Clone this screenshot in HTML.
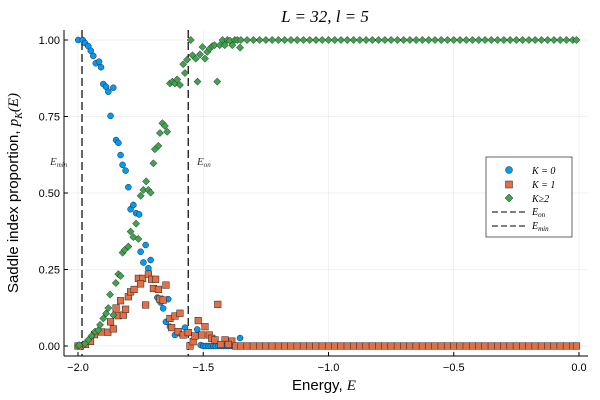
<!DOCTYPE html>
<html><head><meta charset="utf-8"><style>
body{margin:0;background:#fff;}
svg{display:block;font-family:"Liberation Sans",sans-serif;}
</style></head><body>
<svg id="c" width="600" height="400"></svg>
<script>
const xTicks=[-2.0,-1.5,-1.0,-0.5,0.0];
const xTickLabels=["−2.0","−1.5","−1.0","−0.5","0.0"];
const yTicks=[0,0.25,0.5,0.75,1.0];
const yTickLabels=["0.00","0.25","0.50","0.75","1.00"];
const eMin=-1.984, eOn=-1.56;
const flatE=[-1.35,-1.325,-1.3,-1.275,-1.25,-1.225,-1.2,-1.175,-1.15,-1.125,-1.1,-1.075,-1.05,-1.025,-1.0,-0.975,-0.95,-0.925,-0.9,-0.875,-0.85,-0.825,-0.8,-0.775,-0.75,-0.725,-0.7,-0.675,-0.65,-0.625,-0.6,-0.575,-0.55,-0.525,-0.5,-0.475,-0.45,-0.425,-0.4,-0.375,-0.35,-0.325,-0.3,-0.275,-0.25,-0.225,-0.2,-0.175,-0.15,-0.125,-0.1,-0.075,-0.05,-0.025,-0.01];
const k0E=[-1.999,-1.981,-1.972,-1.959,-1.949,-1.939,-1.929,-1.916,-1.908,-1.899,-1.888,-1.879,-1.859,-1.870,-1.848,-1.839,-1.830,-1.822,-1.810,-1.799,-1.790,-1.779,-1.768,-1.756,-1.750,-1.730,-1.739,-1.710,-1.719,-1.683,-1.670,-1.660,-1.640,-1.649,-1.633,-1.613,-1.593,-1.573,-1.524,-1.51,-1.50,-1.49,-1.48,-1.47,-1.46,-1.45,-1.44,-1.43,-1.42,-1.41,-1.40,-1.39,-1.38,-1.37,-1.353];
const k0P=[1.00,1.00,0.99,0.98,0.965,0.948,0.924,0.929,0.911,0.856,0.847,0.831,0.844,0.752,0.673,0.664,0.624,0.592,0.573,0.519,0.447,0.461,0.434,0.430,0.308,0.330,0.273,0.281,0.254,0.158,0.142,0.123,0.153,0.079,0.063,0.036,0.041,0.060,0.054,0.003,0,0,0,0,0,0,0,0,0,0,0,0,0,0,0.026];
const k1E=[-2.0,-1.99,-1.97,-1.95,-1.934,-1.906,-1.881,-1.859,-1.870,-1.848,-1.839,-1.819,-1.810,-1.830,-1.799,-1.790,-1.776,-1.759,-1.742,-1.750,-1.719,-1.706,-1.690,-1.730,-1.699,-1.679,-1.649,-1.673,-1.660,-1.633,-1.613,-1.593,-1.626,-1.600,-1.580,-1.560,-1.553,-1.540,-1.520,-1.493,-1.442,-1.533,-1.506,-1.476,-1.466,-1.453,-1.413,-1.386,-1.43,-1.40,-1.37];
const k1P=[0,0,0.005,0.015,0.037,0.046,0.045,0.056,0.079,0.124,0.099,0.101,0.12,0.148,0.161,0.177,0.185,0.221,0.221,0.203,0.235,0.218,0.218,0.134,0.188,0.185,0.199,0.153,0.150,0.090,0.098,0.107,0.060,0.047,0.036,0.044,0,0.014,0.083,0.063,0.136,0.033,0.036,0.036,0.025,0.020,0.020,0.016,0.005,0.005,0];
const k2E=[-2.0,-1.995,-1.972,-1.959,-1.946,-1.932,-1.919,-1.912,-1.899,-1.888,-1.879,-1.872,-1.859,-1.849,-1.839,-1.830,-1.822,-1.814,-1.799,-1.790,-1.779,-1.768,-1.759,-1.750,-1.739,-1.728,-1.719,-1.710,-1.699,-1.693,-1.679,-1.673,-1.663,-1.653,-1.644,-1.633,-1.623,-1.613,-1.604,-1.593,-1.580,-1.573,-1.564,-1.550,-1.543,-1.530,-1.523,-1.513,-1.503,-1.493,-1.484,-1.474,-1.464,-1.455,-1.444,-1.434,-1.423,-1.414,-1.404,-1.394,-1.384,-1.374,-1.364,-1.353];
const k2P=[0,0.003,0.008,0.020,0.033,0.047,0.052,0.069,0.090,0.106,0.124,0.168,0.101,0.206,0.235,0.229,0.305,0.314,0.325,0.374,0.356,0.400,0.350,0.491,0.510,0.538,0.510,0.501,0.597,0.643,0.654,0.696,0.728,0.719,0.700,0.858,0.864,0.858,0.871,0.853,0.921,0.892,0.936,1.0,0.950,0.939,0.864,0.953,0.977,0.939,0.961,0.972,0.980,0.983,0.864,0.983,1.0,0.983,1.0,0.998,0.983,1.0,1.0,0.975];

const L=64,R=588,T=30,B=356;
const X=e=>78+(e+2)*250.5;
const Y=p=>346-p*306;
const NS="http://www.w3.org/2000/svg";
const svg=document.getElementById('c');
function mk(tag,attrs,parent){const el=document.createElementNS(NS,tag);for(const k in attrs)el.setAttribute(k,attrs[k]);(parent||svg).appendChild(el);return el;}

// grid
const grid=mk('g',{});


xTicks.forEach(t=>mk('line',{x1:X(t),x2:X(t),y1:T,y2:B,stroke:'#000','stroke-opacity':0.1,'stroke-width':0.5},grid));
yTicks.forEach(t=>mk('line',{x1:L,x2:R,y1:Y(t),y2:Y(t),stroke:'#000','stroke-opacity':0.1,'stroke-width':0.5},grid));

// axes
const ax=mk('g',{});


mk('line',{x1:L,x2:R,y1:B,y2:B,stroke:'#000','stroke-width':1},ax);
mk('line',{x1:L,x2:L,y1:T,y2:B,stroke:'#000','stroke-width':1},ax);
xTicks.forEach((t,i)=>{
  mk('line',{x1:X(t),x2:X(t),y1:B,y2:B-4,stroke:'#000'},ax);
  const tx=mk('text',{x:X(t),y:B+15,'text-anchor':'middle','font-size':11},ax);
  tx.textContent=xTickLabels[i];
  
  
});
yTicks.forEach((t,i)=>{
  mk('line',{x1:L,x2:L+4,y1:Y(t),y2:Y(t),stroke:'#000'},ax);
  const tx=mk('text',{x:L-4,y:Y(t)+4,'text-anchor':'end','font-size':11},ax);
  tx.textContent=yTickLabels[i];
  
  
});

// dashed lines
[eMin,eOn].forEach((e,i)=>{
  const l=mk('line',{x1:X(e),x2:X(e),y1:T,y2:B,stroke:'#000','stroke-width':1.2,'stroke-dasharray':'8,4'});
  
  
});

function circ(g,e,p){mk('circle',{cx:X(e),cy:Y(p),r:3,fill:'#009afa',stroke:'#222','stroke-width':0.5},g);}
function sq(g,e,p){mk('rect',{x:X(e)-3.3,y:Y(p)-3.3,width:6.6,height:6.6,fill:'#e26f46',stroke:'#222','stroke-width':0.5},g);}
function dia(g,e,p){const x=X(e),y=Y(p);mk('polygon',{points:`${x},${y-3.6} ${x+3.6},${y} ${x},${y+3.6} ${x-3.6},${y}`,fill:'#3ea44e',stroke:'#222','stroke-width':0.5},g);}

const g0=mk('g',{});


k0E.forEach((e,i)=>circ(g0,e,k0P[i]));
flatE.forEach(e=>circ(g0,e,0));
const g1=mk('g',{});


k1E.forEach((e,i)=>sq(g1,e,k1P[i]));
flatE.forEach(e=>sq(g1,e,0));
const g2=mk('g',{});


k2E.forEach((e,i)=>dia(g2,e,k2P[i]));
flatE.forEach(e=>dia(g2,e,1));
</script>
<svg style="position:absolute;left:0;top:0" width="600" height="400">
<text x="325" y="22" text-anchor="middle" font-family="Liberation Serif,serif" font-size="17" font-style="italic">L = 32, l = 5</text>
<text x="324" y="390" text-anchor="middle" font-size="15" font-family="Liberation Sans,sans-serif">Energy, <tspan font-family="Liberation Serif,serif" font-style="italic">E</tspan></text>
<text transform="translate(18,193) rotate(-90)" text-anchor="middle" font-size="15" font-family="Liberation Sans,sans-serif">Saddle index proportion, <tspan font-family="Liberation Serif,serif" font-style="italic">p<tspan font-size="10" dy="4">K</tspan><tspan dy="-4">(E)</tspan></tspan></text>
<text x="50" y="165" font-family="Liberation Serif,serif" font-style="italic" font-size="11" fill="#333">E<tspan font-size="7" dy="2">min</tspan></text>
<text x="197" y="165" font-family="Liberation Serif,serif" font-style="italic" font-size="11" fill="#333">E<tspan font-size="7" dy="2">on</tspan></text>
<g font-family="Liberation Serif,serif" font-style="italic" font-size="10">
<rect x="486" y="157" width="86" height="80" fill="#fff" stroke="#000" stroke-width="0.6"/>
<circle cx="509" cy="170" r="3.5" fill="#009afa" stroke="#222" stroke-width="0.5"/>
<text x="532" y="174">K = 0</text>
<rect x="505.5" y="181" width="7" height="7" fill="#e26f46" stroke="#222" stroke-width="0.5"/>
<text x="532" y="188">K = 1</text>
<polygon points="509,194 513,198 509,202 505,198" fill="#3ea44e" stroke="#222" stroke-width="0.5"/>
<text x="532" y="202">K≥2</text>
<line x1="492" x2="526" y1="212" y2="212" stroke="#000" stroke-dasharray="6,3"/>
<text x="532" y="215">E<tspan font-size="7" dy="2">on</tspan></text>
<line x1="492" x2="526" y1="226" y2="226" stroke="#000" stroke-dasharray="6,3"/>
<text x="532" y="229">E<tspan font-size="7" dy="2">min</tspan></text>
</g>
</svg>
</body></html>
